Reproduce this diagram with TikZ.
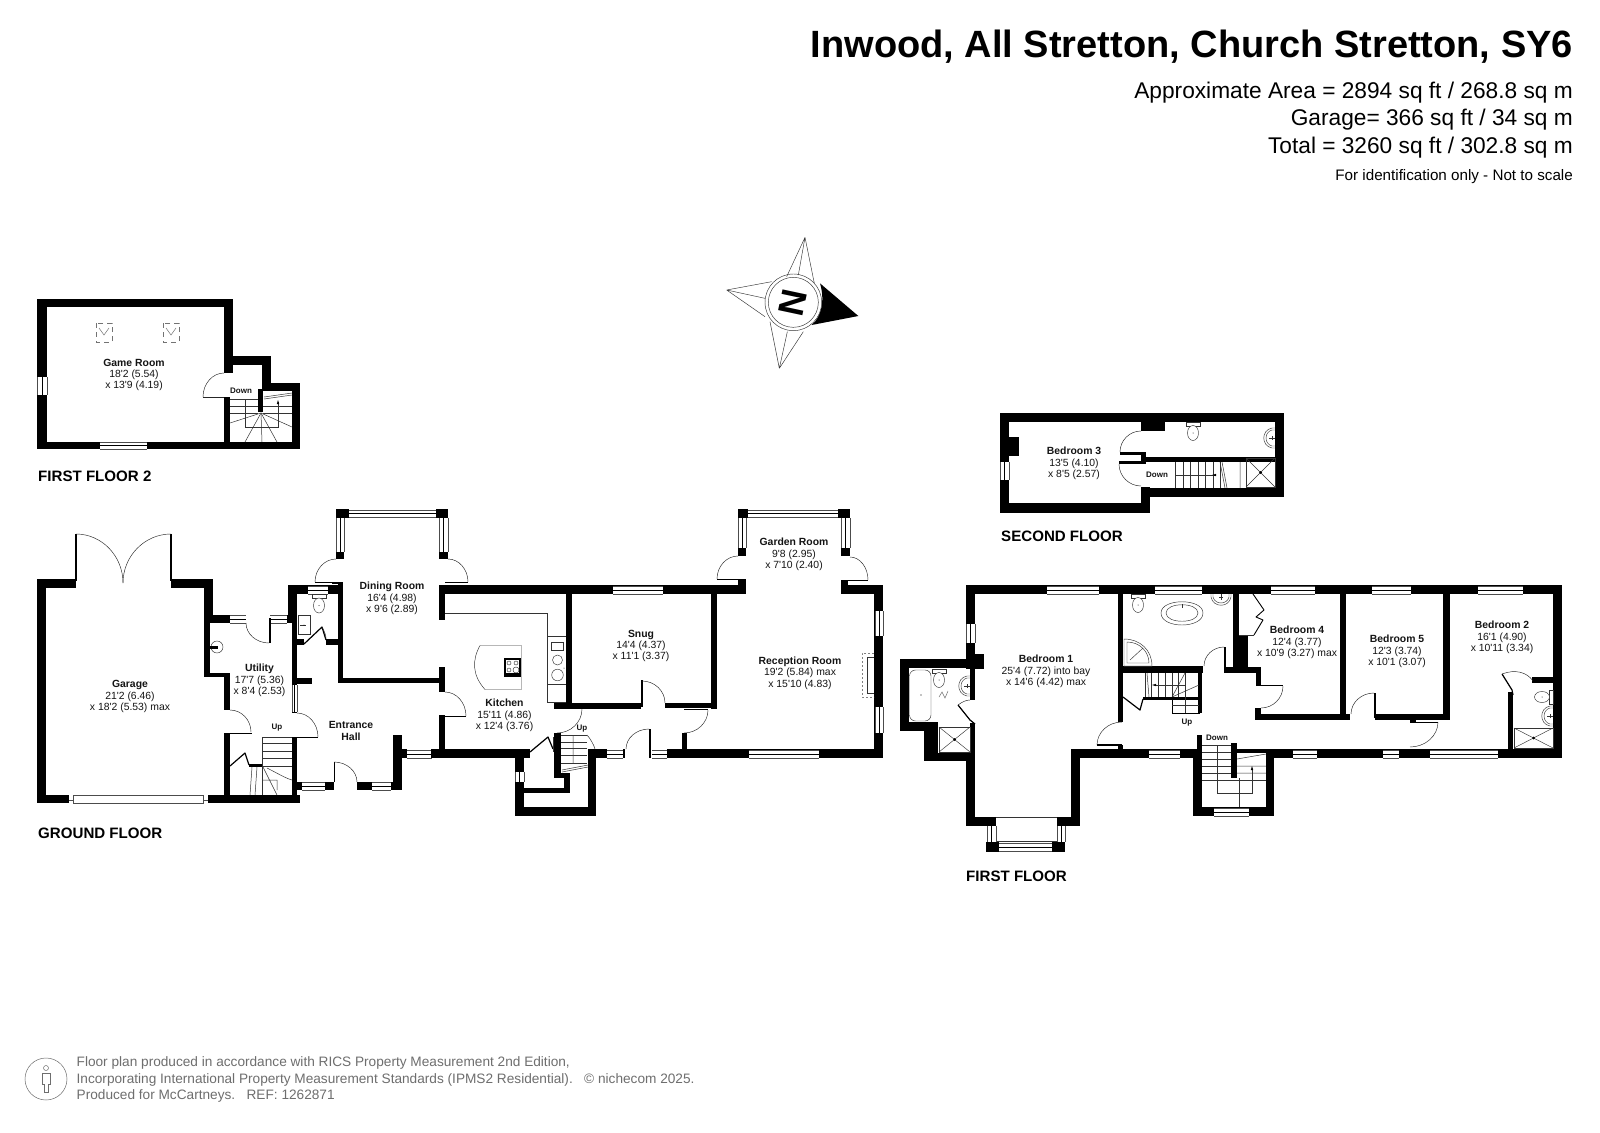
\documentclass[tikz,border=0pt]{standalone}
\usepackage{fontspec}
\usetikzlibrary{calc}
\newfontfamily\lsans{Liberation Sans}
\definecolor{txt}{HTML}{141414}
\definecolor{foot}{HTML}{6E6E6E}
\newcommand{\WW}[4]{\fill[black] (#1,#2) rectangle (#3,#4);}
% horizontal window
\newcommand{\WH}[4]{\fill[white] (#1,#2) rectangle (#3,#4);
  \draw[thinl] (#1,#2) -- (#3,#2) (#1,#4) -- (#3,#4);
  \draw[midl] (#1,{0.5*(#2+#4)}) -- (#3,{0.5*(#2+#4)});}
% vertical window
\newcommand{\WV}[4]{\fill[white] (#1,#2) rectangle (#3,#4);
  \draw[thinl] (#1,#2) -- (#1,#4) (#3,#2) -- (#3,#4);
  \draw[midl] ({0.5*(#1+#3)},#2) -- ({0.5*(#1+#3)},#4);}
% door arc: start, corner, end
\newcommand{\DA}[6]{\draw[doorl] (#1,#2) .. controls ($(#1,#2)!0.55!(#3,#4)$) and ($(#5,#6)!0.55!(#3,#4)$) .. (#5,#6);}
\newcommand{\Toil}[3]{\begin{scope}[shift={(#1,#2)},rotate=#3]
  \draw[fix] (-7,0) rectangle (7,4);
  \draw[fix,fill=white] (0,11) ellipse (5.5 and 7.5);\fill (0,11) circle (0.5);
  \end{scope}}
\newcommand{\Basin}[3]{\begin{scope}[shift={(#1,#2)},rotate=#3]
  \draw[fix] (-10,0) -- (-10,3) .. controls (-8,14) and (8,14) .. (10,3) -- (10,0);
  \draw[fix] (-8,0) -- (-8,3) .. controls (-6,11) and (6,11) .. (8,3) -- (8,0);
  \draw[fix] (0,0) -- (0,6);\draw[fix] (-2,3) -- (2,3);
  \end{scope}}
\newcommand{\Shower}[4]{\draw[fix,line width=0.7pt] (#1,#2) rectangle (#3,#4);
  \draw[fix] (#1,#2) -- (#3,#4);\draw[fix] (#1,#4) -- (#3,#2);
  \fill ($(#1,#2)!0.5!(#3,#4)$) circle (1.5);}
\newcommand{\Room}[6]{\node[lab] (#1) at (#2,#3) {{\bfseries\fontsize{10.4}{11.3}\selectfont #4}\\#5\\#6};}
\tikzset{
 thinl/.style={line width=0.4pt,draw=black!70},
 midl/.style={line width=0.6pt,draw=black},
 doorl/.style={line width=0.45pt,draw=black!85},
 fix/.style={line width=0.45pt,draw=black!80},
 sl/.style={line width=0.5pt,draw=black!80},
 fold/.style={line width=1.2pt,draw=black,line join=round},
 lab/.style={align=center,inner sep=0,yshift=-1.5pt,text=txt,font=\lsans\fontsize{10.4}{11.3}\selectfont},
 small/.style={inner sep=0,yshift=-1pt,text=txt,font=\lsans\bfseries\fontsize{8}{9}\selectfont},
 floorlab/.style={inner sep=0,anchor=west,yshift=-1pt,text=black,font=\lsans\bfseries\fontsize{15.1}{16}\selectfont},
 head/.style={inner sep=0,anchor=east,yshift=-3pt,text=black,font=\lsans\fontsize{22.7}{24}\selectfont},
 footl/.style={inner sep=0,anchor=west,yshift=-2pt,text=foot,font=\lsans\fontsize{13.65}{15}\selectfont},
}
\begin{document}
\begin{tikzpicture}[x=1pt,y=-1pt]
\useasboundingbox (0,0) rectangle (1600,1132);
\fill[white] (0,0) rectangle (1600,1132);
%% Headings
\node[head,font=\lsans\bfseries\fontsize{38}{40}\selectfont] (title) at (1573,44) {Inwood, All Stretton, Church Stretton, SY6};
\node[head] (area) at (1573,90) {Approximate Area = 2894 sq ft / 268.8 sq m};
\node[head] (gar) at (1573,117) {Garage= 366 sq ft / 34 sq m};
\node[head] (tot) at (1573,145) {Total = 3260 sq ft / 302.8 sq m};
\node[head,font=\lsans\fontsize{15.2}{16}\selectfont] (ident) at (1573,174) {For identification only - Not to scale};
%% Compass
\begin{scope}[shift={(710,220)},scale=1/3]
 \draw[fix] (285,52) -- (230,170) (285,52) -- (265,165) (285,52) -- (313,190);
 \draw[fix] (50,210) -- (185,185) (50,210) -- (165,235) (50,210) -- (165,290);
 \draw[fix] (208,445) -- (180,305) (208,445) -- (232,335) (208,445) -- (280,335);
 \fill[black] (445,288) -- (330,190) .. controls (345,240) and (335,290) .. (305,315) -- cycle;
 \draw[fix] (250,247) circle (85);
 \draw[fix] (250,247) circle (75);
 \node[rotate=-102,inner sep=0,font=\lsans\bfseries\fontsize{36}{36}\selectfont] (north) at (248,249) {N};
\end{scope}
%% FIRST FLOOR 2
\WW{37}{299}{233}{307}\WW{37}{299}{47}{449}\WW{37}{442}{300}{449}\WW{224}{299}{233}{373}
\WW{224}{397}{230}{442}\WW{230}{356}{271}{365}\WW{262}{356}{271}{391}\WW{262}{383}{300}{391}\WW{292}{383}{300}{449}\WW{258}{389}{263}{412}
\WV{37}{377}{47}{395}\WH{100}{442}{147}{449}
\DA{224}{373}{203}{373}{203}{397}\draw[doorl,line width=0.9pt] (203,397) -- (224,397);
\foreach \yy in {399,406,413}{\draw[sl] (230,\yy) -- (258,\yy);}
\foreach \yy in {406,413}{\draw[sl] (263,\yy) -- (292,\yy);}
\draw[sl] (264,397) -- (292,393) (264,399) -- (292,395);
\draw[sl] (245,399) -- (245,427) -- (278,427) -- (278,402);
\fill (278,400) -- (276.8,404) -- (279.2,404) -- cycle;
\foreach \xx/\yy in {230/423,245/442,262/442,277/442,292/427}{\draw[sl] (261,413) -- (\xx,\yy);}
\foreach \xa in {96,163}{\draw[sl,draw=black!55,dashed,dash pattern=on 5pt off 4pt] (\xa,323) rectangle ++(16,19);
 \draw[sl,draw=black!55] (\xa+3,328) -- (\xa+8,335) -- (\xa+13,328);}
\Room{game}{134}{373.5}{Game Room}{18'2 (5.54)}{x 13'9 (4.19)}
\node[small] (d1) at (241,390) {Down};
\node[floorlab] (ff2) at (38,475) {FIRST FLOOR 2};
%% GROUND FLOOR: garage and utility
\WW{37}{579}{46}{803}\WW{37}{579}{76}{588}\WW{171}{579}{213}{588}\WW{204}{579}{213}{623}\WW{204}{579}{210}{677}
\WW{213}{615}{230}{623}\WW{204}{673}{230}{677}\WW{224}{673}{230}{710}\WW{224}{733}{230}{803}
\WW{37}{795}{69}{803}\WW{208}{795}{300}{803}\WW{287}{615}{297}{623}\WW{288}{585}{297}{623}\WW{292}{623}{297}{685}\WW{292}{712}{297}{713}
\WW{292}{737}{297}{795}
\draw[thinl,fill=white] (73,795.5) rectangle (203,803);\draw[thinl] (69,800) -- (73,800) (203,800) -- (208,800);
\WH{230}{615}{246}{623}\WH{270}{615}{287}{623}\WV{292}{685}{297}{712}
\WW{268.8}{618}{270.6}{643}
\draw[line width=1.3pt] (76,534) -- (76,581);\draw[line width=1.3pt] (171,534) -- (171,581);
\DA{76}{534}{123}{534}{123}{583}\DA{171}{534}{123}{534}{123}{583}
\DA{246}{623}{246}{643}{269}{643}
\DA{230}{710}{251}{710}{251}{732}\draw[line width=1pt] (224,733) -- (252,733);
\DA{297}{713}{318}{713}{318}{737}\draw[line width=0.9pt] (297,737) -- (318,737);
% garage basin
\draw[fix] (217,647) circle (6);\WW{210}{645.5}{218}{648.5}
% utility stairs
\draw[sl] (262,737) -- (262,795);\foreach \yy in {737,743,751,758,766}{\draw[sl] (262,\yy) -- (292,\yy);}
\draw[sl] (263,767) -- (277,795) (267,768) .. controls (277,773) and (285,778) .. (292,780) (263,780) -- (277,780) -- (277,790);
\draw[sl] (252,767) -- (250,795) (257,767) -- (255,795);
\WW{249}{764}{262}{767}
\draw[fold] (230,766) -- (245,753) -- (249,765);
\Room{garage}{130}{695}{Garage}{21'2 (6.46)}{x 18'2 (5.53) max}
\Room{util}{259.5}{679}{Utility}{17'7 (5.36)}{x 8'4 (2.53)}
\node[small] (u1) at (277,727) {Up};
\node[floorlab] (gf) at (38,832) {GROUND FLOOR};
%% WC + entrance hall + dining room
\WW{288}{585}{343}{594}\WW{338}{582}{343}{683}\WW{338}{678}{445}{683}\WW{439}{667}{445}{692}
\WH{308}{586}{328}{594}
\WW{297}{639}{304}{645}\WW{326}{639}{343}{645}\WW{297}{678}{312}{684}
\draw[fold] (304,644) -- (322,627) -- (326,640);
\draw[doorl] (322,627) .. controls (325,632) and (326,636) .. (326,639);
\Toil{319}{594.5}{0}
\draw[fix] (298,615) rectangle (310,634);\draw[fix] (300,625) -- (306,625);\fill (304,625) circle (0.5);
\WW{332}{582}{343}{584}\draw[line width=0.9pt] (315,582) -- (338,582);
% dining bay
\WW{336}{509}{349}{518}\WW{436}{509}{448}{518}\WH{349}{510}{436}{517}
\WV{336}{518}{344}{552}\WV{439}{518}{448}{552}\WW{336}{552}{344}{559}\WW{439}{552}{448}{559}
\DA{336}{559}{315}{559}{315}{582}\DA{448}{559}{468}{559}{468}{582}\draw[line width=0.9pt] (445,582) -- (468,582);
% hall bottom
\WW{297}{782}{334}{790}\WH{302}{782}{325}{790}\WW{357}{782}{402}{790}\WH{372}{782}{391}{790}\WW{393}{735}{402}{790}\WW{402}{749}{407}{758}
\WH{407}{750}{432}{758}
\WW{333.5}{762}{335}{782}\DA{334}{762}{357}{762}{357}{782}
\DA{445}{692}{466}{692}{466}{716}\draw[line width=0.9pt] (445,716) -- (466,716);
\Room{dining}{392}{597}{Dining Room}{16'4 (4.98)}{x 9'6 (2.89)}
\node[lab,font=\lsans\bfseries\fontsize{10.4}{11.3}\selectfont] (hall) at (351,729.5) {Entrance\\Hall};
%% Kitchen, snug, reception
\WW{439}{585}{746}{594}\WW{439}{585}{445}{620}\WW{566}{594}{572}{707}\WW{554}{703}{641}{709}\WW{711}{594}{717}{709}\WW{665}{703}{717}{708}
\WH{613}{586}{663}{594}
\WW{439}{715}{445}{750}\WW{431}{749}{530}{758}
\WW{641}{680}{642.6}{707}\DA{642}{681}{665}{681}{665}{703}
\draw[line width=1.2pt] (684,709.5) -- (708,709.5);\DA{708}{710}{708}{733}{684}{733}\WW{682}{733}{687}{750}
\WW{874}{585}{883}{758}\WW{841}{585}{883}{594}\WW{841}{580}{848}{594}\WW{738}{579}{746}{594}
\WV{875}{611}{883}{636}\WV{875}{707}{883}{733}
\WW{667}{749}{883}{758}\WH{749}{750}{819}{758}\WH{652}{750}{667}{758}\WW{588}{749}{607}{758}\WH{607}{750}{623}{758}
\WW{649}{729}{650.5}{758}\DA{649}{729}{626}{729}{626}{749}\WW{623}{749}{625}{758}
% garden room bay
\WW{738}{509}{748}{518}\WW{838}{509}{850}{518}\WH{748}{510}{838}{517}
\WV{738}{518}{746}{548}\WV{841}{518}{850}{548}\WW{738}{548}{746}{556}\WW{841}{548}{850}{556}
\DA{738}{556}{717}{556}{717}{579}\draw[line width=0.9pt] (717,579) -- (740,579);
\DA{850}{557}{868}{557}{868}{580}\draw[line width=0.9pt] (845,580) -- (868,580);
% fireplace
\draw[fix,draw=black!50,dashed,dash pattern=on 2pt off 2pt] (874,653) -- (862,653) -- (862,697) -- (874,697);
\draw[fix,line width=0.7pt] (874,657) -- (867,657) -- (867,693) -- (874,693);
% kitchen fittings
\draw[fix] (445,613.5) -- (547,613.5) -- (547,702) -- (566,702);\draw[fix] (547,636.5) -- (566,636.5) (547,684) -- (566,684);
\draw[fix] (551,642) rectangle (563,650);\draw[fix] (557.5,660) circle (5);\draw[fix] (557.5,675) circle (5.8);\fill (564,668) circle (.5);
\draw[fix] (480,645.5) -- (521.5,645.5) -- (521.5,689.5) -- (485,689.5) .. controls (472,675) and (472,660) .. (480,645.5);
\WW{504}{658}{521}{677}
\fill[white] (506,660) rectangle (519,675);\draw[fix] (509,663) circle (2) (516,663) circle (2) (509,670) circle (2) (516,670) circle (3);
\WW{506}{673}{519}{675}
% rear cupboards and stairs
\DA{582}{709}{582}{733}{557}{733}
\WW{554}{733}{561}{778}\WW{554}{773}{570}{778}\WW{564}{773}{570}{793}\WW{515}{788}{570}{793}
\WW{515}{749}{524}{816}\WW{515}{807}{596}{816}\WW{588}{749}{596}{816}
\WV{515}{772}{524}{782}
\draw[fold] (530,752) -- (548,737) -- (553,749);
\draw[sl] (553,737) -- (553,752);
\foreach \yy in {735,742,748,755,763}{\draw[sl] (561,\yy) -- (587,\yy);}
\draw[sl] (573,735) -- (573,763) (587,735) .. controls (590,738) and (594,745) .. (595,749);
\draw[sl] (562,772) -- (588,767) (562,770) -- (588,765);
\Room{kitchen}{504.5}{714}{Kitchen}{15'11 (4.86)}{x 12'4 (3.76)}
\Room{snug}{641}{644.5}{Snug}{14'4 (4.37)}{x 11'1 (3.37)}
\Room{recep}{800}{671.5}{Reception Room}{19'2 (5.84) max}{x 15'10 (4.83)}
\Room{garden}{794}{553}{Garden Room}{9'8 (2.95)}{x 7'10 (2.40)}
\node[small] (u2) at (582,728) {Up};
%% FIRST FLOOR
\WW{966}{585}{1562}{594}\WW{966}{585}{975}{660}\WW{966}{654}{984}{669}
\WW{900}{659}{909}{731}\WW{900}{659}{966}{668}\WW{970}{668}{975}{700}\WW{900}{722}{938}{731}\WW{924}{722}{938}{761}\WW{924}{753}{975}{761}
\WW{970}{723}{975}{761}\WW{966}{753}{975}{826}\WW{966}{817}{996}{826}\WW{1057}{817}{1080}{826}\WW{1071}{749}{1080}{826}
\WV{966}{624}{975}{643}
\foreach \xa/\xb in {1047/1099,1155/1202,1271/1315,1372/1411,1478/1523}{\WH{\xa}{586}{\xb}{594}}
\WW{1553}{585}{1562}{758}
\WW{1071}{749}{1197}{758}\WH{1149}{750}{1180}{758}
\WW{1118}{594}{1123}{722}\WW{1118}{745}{1123}{749}
\DA{1122}{722}{1097}{722}{1097}{745}\draw[line width=1.1pt] (1097,745) -- (1122,745);
% bay
\draw[fix] (996,817.5) -- (1057,817.5) (996,841.5) -- (1057,841.5);
\WV{987}{826}{996}{842}\WV{1057}{826}{1065}{842}\WW{986}{842}{999}{852}\WW{1052}{842}{1065}{852}\WH{999}{843}{1052}{851}
% en suite
\draw[fix,rounded corners=6pt] (909.5,670) rectangle (931,721);\fill (921,695) circle (.6);
\Toil{939}{669}{0}
\Basin{970}{686}{-90}
\Shower{939}{727}{970}{752}
\draw[fold] (958,705) -- (970,720) -- (975,724);
\draw[doorl] (958,705) .. controls (962,702) and (966,700) .. (970,700);
\draw[sl,draw=black!55] (939,697) -- (942,692) -- (945,698) -- (948,691);
% bathroom
\WW{1123}{666}{1203}{673}\WW{1198}{673}{1202}{713}\WW{1143}{697}{1200}{700}
\WW{1224}{647}{1226}{670}\WW{1224}{667}{1261}{673}\WW{1233}{635}{1248}{667}\WW{1233}{594}{1239}{635}
\DA{1224}{647}{1204}{647}{1204}{666}
\Toil{1138}{594}{0}
\draw[fix] (1161,613) .. controls (1161,598) and (1203,598) .. (1203,613) .. controls (1203,629) and (1161,629) .. (1161,613) -- cycle;
\draw[fix] (1166,613) .. controls (1166,602) and (1198,602) .. (1198,613) .. controls (1198,624) and (1166,624) .. (1166,613) -- cycle;
\draw[fix] (1182,604) -- (1182,608);
\Basin{1221}{594}{0}
\draw[fix,fill=white] (1124,639) .. controls (1140,639) and (1152,650) .. (1152,666) -- (1124,666) -- cycle;
\draw[fix] (1127,642) .. controls (1140,642) and (1149,652) .. (1149,663) -- (1127,663) -- cycle;
\draw[fix] (1130,660) -- (1143,648);
% landing stairs
\foreach \xx in {1145,1151,1158,1165,1172,1178,1185}{\draw[sl] (\xx,673) -- (\xx,697);}
\draw[sl] (1147,673) -- (1149,697);
\draw[sl] (1155,685) -- (1185,685);\fill (1152,685) -- (1156,683.8) -- (1156,686.2) -- cycle;
\draw[sl] (1172,697) -- (1185,673) (1172,697) -- (1199,685);
\draw[line width=0.8pt] (1172,697) rectangle (1199,713);\draw[sl] (1172,705) -- (1199,705) (1185,697) -- (1185,713);
\draw[fold] (1123,697) -- (1140,710) -- (1143,699);
% Bedroom 4 etc
\draw[fix,line width=0.9pt] (1239,635) -- (1254,635);
\draw[fold,line width=0.9pt] (1253,594) -- (1264,610) -- (1256,617) -- (1263,620) -- (1254,635);
\WW{1256}{667}{1261}{686}\draw[line width=.9pt] (1256,685.5) -- (1283,685.5);
\DA{1283}{686}{1283}{708}{1261}{708}
\WW{1255}{708}{1261}{720}\WW{1255}{714}{1350}{720}\WW{1340}{594}{1346}{720}
\WW{1374}{693}{1376}{718}\DA{1374}{693}{1351}{693}{1351}{714}
\WW{1375}{714}{1450}{720}\WW{1443}{594}{1450}{720}
\WW{1410}{720}{1416}{723}\draw[line width=1.1pt] (1410,722.5) -- (1438,722.5);\DA{1438}{722}{1438}{747}{1410}{747}
% Bedroom 2 ensuite
\WW{1508}{692}{1513}{750}\WW{1532}{677}{1553}{683}
\draw[fold] (1502,674) -- (1512,690) -- (1513,695);
\draw[doorl] (1502,674) .. controls (1515,669) and (1527,672) .. (1533,681);
\Toil{1553}{697}{-90}
\Basin{1553}{716}{-90}
\Shower{1514}{728}{1553}{748}
% stair block
\WW{1193}{749}{1202}{816}\WW{1197}{735}{1202}{750}\WW{1193}{807}{1274}{816}\WW{1266}{749}{1274}{816}
\WH{1214}{808}{1249}{816}\WW{1231}{743}{1237}{778}
\WW{1237}{749}{1562}{758}
\foreach \xa/\xb in {1293/1317,1383/1399,1430/1498}{\WH{\xa}{750}{\xb}{758}}
\fill[white] (1237,753) rectangle (1266,758);
\foreach \yy in {745,752,759,766,773}{\draw[sl] (1202,\yy) -- (1231,\yy);}
\draw[sl] (1202,780) -- (1266,780);
\draw[sl] (1237,766) -- (1266,766) (1237,773) -- (1266,773) (1237,759) -- (1266,754);
\draw[sl] (1217,745) -- (1217,793) -- (1252,793) -- (1252,770);\fill (1252,766) -- (1250.8,770) -- (1253.2,770) -- cycle;
\draw[sl] (1239,778) -- (1239,807);
\Room{bed1}{1046}{670}{Bedroom 1}{25'4 (7.72) into bay}{x 14'6 (4.42) max}
\Room{bed4}{1297}{641}{Bedroom 4}{12'4 (3.77)}{x 10'9 (3.27) max}
\Room{bed5}{1397}{650}{Bedroom 5}{12'3 (3.74)}{x 10'1 (3.07)}
\Room{bed2}{1502}{636}{Bedroom 2}{16'1 (4.90)}{x 10'11 (3.34)}
\node[small] (u3) at (1187,722) {Up};
\node[small] (d2) at (1217,737) {Down};
\node[floorlab] (ff) at (966,875) {FIRST FLOOR};
%% SECOND FLOOR
\WW{1000}{413}{1284}{422}\WW{1000}{413}{1009}{513}\WV{1000}{462}{1009}{480}\WW{1009}{437}{1019}{456}
\WW{1000}{503}{1150}{513}\WW{1141}{487}{1150}{513}\WW{1141}{488}{1284}{497}\WW{1275}{413}{1284}{497}
\WW{1141}{422}{1165}{431}\WW{1141}{453}{1146}{463}\WW{1146}{457}{1275}{462}
\WW{1120}{452}{1146}{455}\WW{1119}{461}{1146}{464}
\DA{1141}{431}{1120}{431}{1120}{452}\DA{1141}{486}{1119}{486}{1119}{464}
\Toil{1193}{422}{0}
\Basin{1275}{438}{-90}
\Shower{1246}{458}{1275}{487}
\foreach \xx in {1175,1183,1190,1198,1205,1213,1220}{\draw[sl] (\xx,462) -- (\xx,488);}
\draw[sl] (1175,475) -- (1215,475);\fill (1212,475) -- (1216,473.8) -- (1216,476.2) -- cycle;
\draw[sl] (1220,462) -- (1225,488) (1222,462) -- (1227,488) (1240,462) -- (1240,488);
\Room{bed3}{1074}{462}{Bedroom 3}{13'5 (4.10)}{x 8'5 (2.57)}
\node[small] (d3) at (1157,474) {Down};
\node[floorlab] (sf) at (1001,535) {SECOND FLOOR};
%% Footer
\node[footl] (f1) at (76.5,1061) {Floor plan produced in accordance with RICS Property Measurement 2nd Edition,};
\node[footl] (f2) at (76.5,1078) {Incorporating International Property Measurement Standards (IPMS2 Residential).\ \ \ © nichecom 2025.};
\node[footl] (f3) at (76.5,1094) {Produced for McCartneys.\ \ \ REF: 1262871};
\draw[foot,line width=0.5pt] (46,1079) circle (21);
\draw[foot,line width=0.5pt] (46,1068) circle (2.5);
\draw[foot,line width=0.5pt] (42,1073) -- (50,1073) -- (50,1084) -- (48,1084) -- (48,1092) -- (44,1092) -- (44,1084) -- (42,1084) -- cycle;
\end{tikzpicture}
\end{document}
